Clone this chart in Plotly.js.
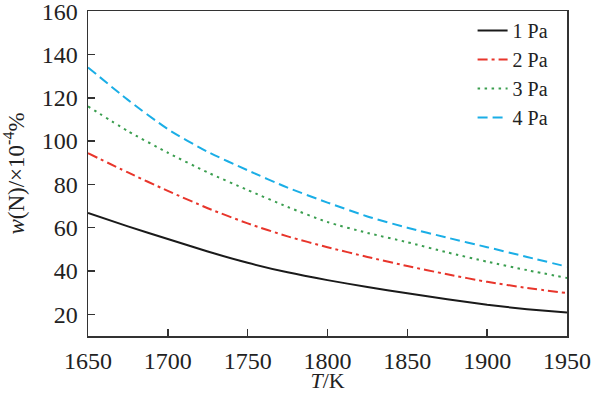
<!DOCTYPE html>
<html><head><meta charset="utf-8">
<script src="https://cdn.plot.ly/plotly-3.0.1.min.js"></script>
<style>html,body{margin:0;padding:0;background:#fff}#c{width:594px;height:393px}</style>
</head><body><div id="c"></div>
<script>
const T = [1650, 1675, 1700, 1725, 1750, 1775, 1800, 1825, 1850, 1875, 1900, 1925, 1950];
const w1Pa = [66.8, 60.6, 54.8, 49.0, 43.8, 39.4, 35.8, 32.6, 29.7, 27.0, 24.4, 22.4, 20.8];
const w2Pa = [94.4, 85.5, 77.0, 69.0, 62.0, 56.0, 51.0, 46.5, 42.3, 38.5, 35.0, 32.2, 29.8];
const w3Pa = [116.0, 104.6, 94.6, 85.5, 77.4, 69.6, 62.6, 57.6, 53.3, 48.6, 44.3, 40.4, 36.8];
const w4Pa = [134.0, 119.0, 105.5, 95.0, 86.5, 78.5, 71.6, 65.2, 60.0, 55.4, 51.0, 46.5, 42.0];
const names = ['1 Pa', '2 Pa', '3 Pa', '4 Pa'];
const series = [w1Pa, w2Pa, w3Pa, w4Pa];
const colors = ['#1a1a1a', '#e8352b', '#3a9e4f', '#1aaee6'];
const dashes = ['solid', '10px,4px,3px,4px', '2.5px,4.5px', '10px,5px'];
const traces = series.map((s, i) => ({
  x: T, y: s, name: names[i], type: 'scatter', mode: 'lines',
  line: {color: colors[i], width: 2, dash: dashes[i], shape: 'spline', smoothing: 0.6}
}));
const fam = 'Liberation Serif, Times New Roman, serif';
const tickFont = {family: fam, size: 24, color: '#222'};
const layout = {
  width: 594, height: 393,
  margin: {l: 88, r: 27, t: 11, b: 57},
  paper_bgcolor: '#fff', plot_bgcolor: '#fff',
  font: {family: fam, size: 22, color: '#222'},
  showlegend: true,
  legend: {x: 0.972, y: 1.0, xanchor: 'right', yanchor: 'top', bgcolor: 'rgba(0,0,0,0)',
           font: {family: fam, size: 20, color: '#222'}},
  xaxis: {
    range: [1650, 1950], tickvals: [1650, 1700, 1750, 1800, 1850, 1900, 1950],
    ticks: 'inside', ticklen: 7, tickwidth: 1.5, tickcolor: '#333',
    showline: true, linecolor: '#333', linewidth: 1.5, mirror: true,
    showgrid: false, zeroline: false, ticklabelstandoff: 3, tickfont: tickFont,
    ticklabeloverflow: 'allow',
    title: {text: '<i>T</i>/K', font: {family: fam, size: 22, color: '#222'}, standoff: 5}
  },
  yaxis: {
    range: [10, 160.05], tickvals: [20, 40, 60, 80, 100, 120, 140, 160],
    ticks: 'inside', ticklen: 7, tickwidth: 1.5, tickcolor: '#333',
    showline: true, linecolor: '#333', linewidth: 1.5, mirror: true,
    showgrid: false, zeroline: false, ticklabelstandoff: 4, tickfont: tickFont,
    ticklabeloverflow: 'allow',
    title: {text: '<i>w</i>(N)/×10<sup>-4</sup>%', font: {family: fam, size: 23, color: '#222'}, standoff: 14}
  }
};
Plotly.newPlot('c', traces, layout, {displayModeBar: false, staticPlot: true});
</script></body></html>
